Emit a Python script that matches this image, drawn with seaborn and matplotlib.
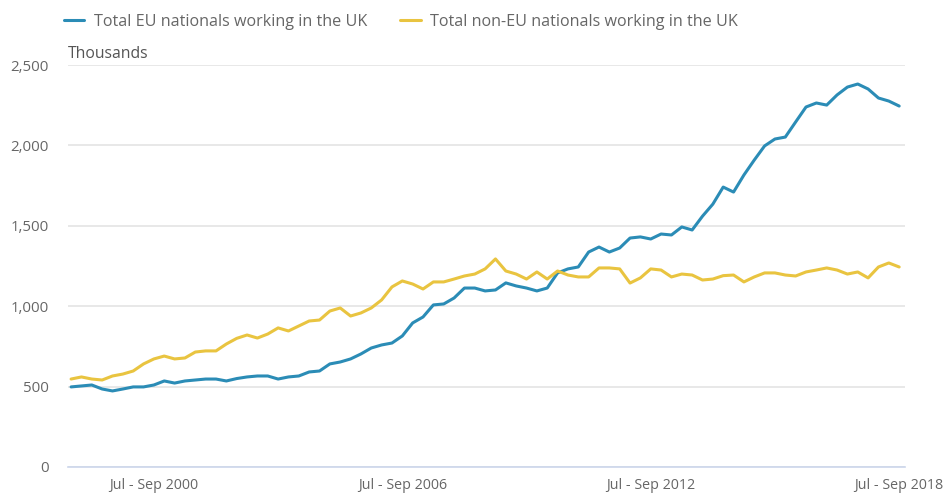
import pandas as pd
import seaborn as sns
import matplotlib.pyplot as plt

# Quarterly series, Jul - Sep 1998 to Jul - Sep 2018 (thousands)
start_year = 1998
eu_nationals = [498, 504, 510, 485, 473, 485, 498, 498, 510, 535,
                522, 535, 541, 547, 547, 535, 550, 560, 566, 566,
                547, 560, 566, 591, 597, 641, 653, 672, 703, 740,
                759, 771, 815, 896, 933, 1008, 1014, 1051, 1113, 1113,
                1095, 1101, 1145, 1126, 1113, 1095, 1113, 1207, 1232, 1244,
                1337, 1368, 1337, 1362, 1424, 1431, 1418, 1449, 1443, 1493,
                1474, 1560, 1635, 1741, 1710, 1816, 1909, 1997, 2040, 2052,
                2146, 2239, 2264, 2251, 2314, 2363, 2382, 2351, 2295, 2276,
                2245]
non_eu_nationals = [547, 560, 547, 541, 566, 578, 597, 641, 672, 690,
                    672, 678, 715, 722, 722, 765, 800, 821, 802, 827,
                    865, 846, 877, 908, 914, 970, 989, 939, 958, 989,
                    1039, 1120, 1157, 1138, 1107, 1151, 1151, 1169, 1188, 1200,
                    1232, 1294, 1219, 1200, 1169, 1213, 1169, 1219, 1194, 1182,
                    1182, 1238, 1238, 1232, 1144, 1176, 1232, 1225, 1182, 1200,
                    1194, 1163, 1169, 1190, 1194, 1151, 1182, 1207, 1207, 1194,
                    1188, 1213, 1225, 1238, 1225, 1200, 1213, 1176, 1244, 1269,
                    1244]
series_names = ["Total EU nationals working in the UK",
                "Total non-EU nationals working in the UK"]
quarter_names = ["Jul - Sep", "Oct - Dec", "Jan - Mar", "Apr - Jun"]
tick_labels = ["Jul - Sep 2000", "Jul - Sep 2006", "Jul - Sep 2012", "Jul - Sep 2018"]

# libellés de trimestre à partir de Jul - Sep 1998
quarters = []
for i in range(len(eu_nationals)):
    q = i % 4
    year = start_year + (i + 2) // 4
    quarters.append(f"{quarter_names[q]} {year}")

df = pd.DataFrame({
    "idx": list(range(len(quarters))) * 2,
    "quarter": quarters * 2,
    "value": eu_nationals + non_eu_nationals,
    "series": [series_names[0]] * len(quarters) + [series_names[1]] * len(quarters),
})

sns.set_style("white")
plt.rcParams['font.family'] = ['Open Sans', 'DejaVu Sans']

colors = {series_names[0]: "#2b8cb6", series_names[1]: "#e9c440"}

fig = plt.figure(figsize=(9.43, 4.95), dpi=100)
ax = fig.add_axes([0.0721, 0.0566, 0.888, 0.812])

sns.lineplot(data=df, x="idx", y="value", hue="series", palette=colors,
             linewidth=2.2, ax=ax, legend=False)

ax.set_ylim(0, 2500)
ax.set_xlim(-0.3, 80.6)
ax.set_yticks([0, 500, 1000, 1500, 2000, 2500])
ax.set_yticklabels([f"{v:,}" for v in [0, 500, 1000, 1500, 2000, 2500]])
tick_pos = [quarters.index(t) for t in tick_labels]
ax.set_xticks(tick_pos)
ax.set_xticklabels(tick_labels)

ax.grid(axis="y", color="#e6e6e6", linewidth=1.3)
ax.set_axisbelow(True)
for side in ["top", "right", "left"]:
    ax.spines[side].set_visible(False)
ax.spines["bottom"].set_color("#ccd6eb")
ax.spines["bottom"].set_linewidth(1.2)

ax.tick_params(axis="x", length=6.5, width=1, color="#ccd6eb", colors="#666666",
               labelsize=10.3, pad=1.5, direction="out")
ax.tick_params(axis="y", length=0, colors="#666666", labelsize=10.8, pad=14)
ax.set_xlabel("")
ax.set_ylabel("")

fig.text(0.072, 1 - 54 / 495, "Thousands", fontsize=11.3, color="#555555",
         va="center", ha="left")

handles = [plt.Line2D([], [], color=colors[s], linewidth=2.2) for s in series_names]
fig.legend(handles, series_names, loc="center left", bbox_to_anchor=(0.052, 1 - 22 / 495),
           ncol=2, frameon=False, fontsize=11.6, handlelength=1.3, handletextpad=0.6,
           columnspacing=2.0, labelcolor="#666666")

plt.savefig("out.png", dpi=100)
